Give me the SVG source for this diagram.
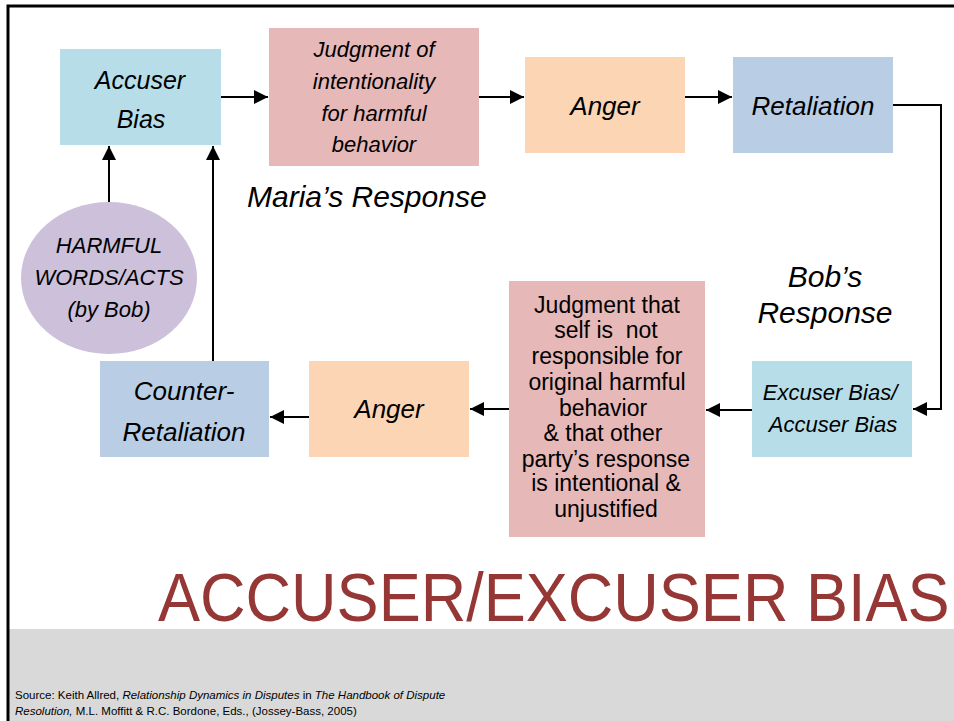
<svg xmlns="http://www.w3.org/2000/svg" width="954" height="721" viewBox="0 0 954 721">
<style>
text{font-family:"Liberation Sans",Arial,sans-serif;fill:#000}
.i{font-style:italic}
.c{text-anchor:middle}
.ln{fill:none;stroke:#000;stroke-width:2}
.blue{fill:#b7dde8}
.pink{fill:#e6b8b7}
.orange{fill:#fcd5b4}
.steel{fill:#b9cde5}
.lav{fill:#ccc0da}
</style>
<defs>
<marker id="ah" viewBox="0 0 10 10" refX="10" refY="5" markerWidth="7" markerHeight="7" orient="auto" markerUnits="strokeWidth">
<path d="M0,0 L10,5 L0,10 z" fill="#000"/>
</marker>
</defs>
<rect width="954" height="721" fill="#fff"/>
<rect x="9" y="629" width="945" height="92" fill="#d9d9d9"/>
<path d="M8,721 V6 H954" fill="none" stroke="#000" stroke-width="3"/>

<g id="connectors">
<path class="ln" d="M221,97 H268" marker-end="url(#ah)"/>
<path class="ln" d="M479,97 H524" marker-end="url(#ah)"/>
<path class="ln" d="M685,97 H732" marker-end="url(#ah)"/>
<path class="ln" d="M893,105 H941 V409 H913" marker-end="url(#ah)"/>
<path class="ln" d="M752,410 H706" marker-end="url(#ah)"/>
<path class="ln" d="M509,409 H470" marker-end="url(#ah)"/>
<path class="ln" d="M309,417 H270" marker-end="url(#ah)"/>
<path class="ln" d="M213,361 V146" marker-end="url(#ah)"/>
<path class="ln" d="M109,202 V146" marker-end="url(#ah)"/>
</g>

<g id="accuser-bias">
<rect class="blue" x="60" y="49" width="161" height="96"/>
<text class="i c" x="140" y="89" font-size="25">Accuser</text>
<text class="i c" x="141" y="128" font-size="25">Bias</text>
</g>

<g id="judgment-intentionality">
<rect class="pink" x="269" y="28" width="210" height="138"/>
<text class="i c" x="374" y="57" font-size="22">Judgment of</text>
<text class="i c" x="374" y="89" font-size="22">intentionality</text>
<text class="i c" x="374" y="121" font-size="22">for harmful</text>
<text class="i c" x="374" y="152" font-size="22">behavior</text>
</g>

<g id="anger-top">
<rect class="orange" x="525" y="57" width="160" height="96"/>
<text class="i c" x="605" y="115" font-size="26">Anger</text>
</g>

<g id="retaliation">
<rect class="steel" x="733" y="57" width="160" height="96"/>
<text class="i c" x="813" y="115" font-size="26">Retaliation</text>
</g>

<g id="marias-response">
<text class="i" x="247" y="207" font-size="30">Maria’s Response</text>
</g>

<g id="bobs-response">
<text class="i c" x="825" y="287" font-size="30">Bob’s</text>
<text class="i c" x="825" y="323" font-size="30">Response</text>
</g>

<g id="harmful-words">
<ellipse class="lav" cx="109" cy="278" rx="88" ry="76"/>
<text class="i c" x="109" y="253" font-size="22">HARMFUL</text>
<text class="i c" x="109" y="285" font-size="22">WORDS/ACTS</text>
<text class="i c" x="109" y="317" font-size="22">(by Bob)</text>
</g>

<g id="excuser-bias">
<rect class="blue" x="752" y="361" width="160" height="96"/>
<text class="i c" x="830" y="400" font-size="22">Excuser Bias/</text>
<text class="i c" x="833" y="432" font-size="22">Accuser Bias</text>
</g>

<g id="judgment-self">
<rect class="pink" x="509" y="281" width="196" height="256"/>
<g font-size="23" text-anchor="middle">
<text x="607" y="313">Judgment that</text>
<text x="606" y="338" xml:space="preserve">self is  not</text>
<text x="607" y="364">responsible for</text>
<text x="607" y="390">original harmful</text>
<text x="603" y="416">behavior</text>
<text x="603" y="441">&amp; that other</text>
<text x="606" y="467">party’s response</text>
<text x="606" y="491">is intentional &amp;</text>
<text x="606" y="517">unjustified</text>
</g>
</g>

<g id="anger-bottom">
<rect class="orange" x="309" y="361" width="160" height="96"/>
<text class="i c" x="389" y="418" font-size="26">Anger</text>
</g>

<g id="counter-retaliation">
<rect class="steel" x="100" y="361" width="169" height="96"/>
<text class="i c" x="184" y="400" font-size="26">Counter-</text>
<text class="i c" x="184" y="441" font-size="26">Retaliation</text>
</g>

<text transform="translate(158,621) scale(1.025,1.12)" x="0" y="0" font-size="61.5" style="fill:#953735">ACCUSER/EXCUSER BIAS</text>

<g font-size="11.5">
<text x="15" y="699">Source: Keith Allred, <tspan class="i">Relationship Dynamics in Disputes</tspan> in <tspan class="i">The Handbook of Dispute</tspan></text>
<text x="15" y="715"><tspan class="i">Resolution,</tspan> M.L. Moffitt &amp; R.C. Bordone, Eds., (Jossey-Bass, 2005)</text>
</g>
</svg>
